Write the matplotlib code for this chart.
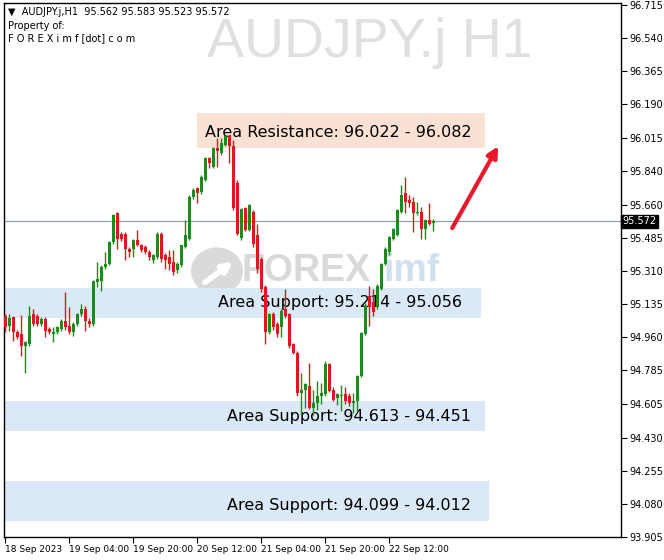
import numpy as np
import matplotlib
matplotlib.use("Agg")
import matplotlib.pyplot as plt
from matplotlib.patches import Rectangle, Ellipse
from matplotlib.transforms import blended_transform_factory

# AUDJPY H1 candles, 18 Sep 12:00 .. 22 Sep 23:00
opens = [95.074, 95.020, 95.065, 94.986, 94.978, 94.915, 94.925, 95.083, 95.074, 95.030,
         95.057, 95.004, 94.977, 94.986, 95.004, 95.048, 95.021, 94.986, 95.030, 95.083,
         95.110, 95.048, 95.030, 95.251, 95.260, 95.331, 95.349, 95.464, 95.614, 95.508,
         95.508, 95.428, 95.428, 95.473, 95.446, 95.437, 95.411, 95.366, 95.384, 95.508,
         95.393, 95.384, 95.358, 95.313, 95.340, 95.437, 95.481, 95.699, 95.747, 95.725,
         95.791, 95.906, 95.862, 95.960, 95.933, 95.977, 96.021, 95.968, 95.774, 95.482,
         95.641, 95.526, 95.623, 95.500, 95.375, 95.225, 94.986, 95.083, 95.030, 95.012,
         95.110, 95.083, 94.923, 94.879, 94.667, 94.684, 94.702, 94.587, 94.614, 94.649,
         94.658, 94.817, 94.684, 94.640, 94.650, 94.658, 94.649, 94.614, 94.622, 94.755,
         94.977, 95.180, 95.145, 95.118, 95.216, 95.348, 95.410, 95.481, 95.499, 95.623,
         95.720, 95.685, 95.676, 95.614, 95.623, 95.534, 95.578, 95.562]
highs = [95.085, 95.085, 95.075, 95.000, 95.080, 94.940, 95.127, 95.110, 95.085, 95.065,
         95.065, 95.015, 95.012, 95.020, 95.057, 95.198, 95.119, 95.040, 95.090, 95.136,
         95.127, 95.060, 95.265, 95.357, 95.340, 95.410, 95.470, 95.610, 95.623, 95.517,
         95.515, 95.435, 95.480, 95.526, 95.455, 95.445, 95.420, 95.400, 95.515, 95.515,
         95.405, 95.420, 95.420, 95.360, 95.450, 95.579, 95.710, 95.747, 95.755, 95.815,
         95.910, 95.915, 95.965, 96.013, 96.013, 96.030, 96.030, 96.000, 95.791, 95.645,
         95.650, 95.665, 95.630, 95.560, 95.385, 95.235, 95.090, 95.095, 95.040, 95.110,
         95.216, 95.090, 94.930, 94.890, 94.773, 94.720, 94.826, 94.684, 94.729, 94.720,
         94.835, 94.825, 94.700, 94.665, 94.710, 94.700, 94.665, 94.665, 94.760, 94.990,
         95.140, 95.233, 95.216, 95.240, 95.350, 95.435, 95.495, 95.540, 95.640, 95.764,
         95.809, 95.711, 95.702, 95.676, 95.650, 95.585, 95.667, 95.583]
lows = [94.990, 94.995, 94.942, 94.950, 94.862, 94.773, 94.915, 95.020, 95.020, 95.020,
        94.959, 94.975, 94.933, 94.975, 94.995, 95.000, 94.975, 94.968, 95.020, 95.075,
        94.995, 95.012, 95.020, 95.225, 95.207, 95.320, 95.340, 95.455, 95.428, 95.470,
        95.366, 95.384, 95.384, 95.440, 95.410, 95.400, 95.366, 95.355, 95.375, 95.360,
        95.322, 95.313, 95.287, 95.300, 95.330, 95.430, 95.475, 95.690, 95.667, 95.715,
        95.785, 95.853, 95.855, 95.862, 95.925, 95.970, 95.880, 95.630, 95.500, 95.475,
        95.520, 95.520, 95.437, 95.300, 95.200, 94.924, 94.980, 95.000, 94.960, 94.960,
        95.060, 94.905, 94.870, 94.650, 94.552, 94.587, 94.580, 94.552, 94.578, 94.605,
        94.650, 94.670, 94.625, 94.604, 94.570, 94.610, 94.595, 94.560, 94.569, 94.750,
        94.970, 95.021, 95.074, 95.110, 95.210, 95.340, 95.393, 95.475, 95.495, 95.615,
        95.614, 95.650, 95.516, 95.605, 95.481, 95.481, 95.555, 95.523]
closes = [95.012, 95.060, 94.986, 94.960, 94.915, 94.933, 95.074, 95.030, 95.030, 95.057,
          94.995, 94.986, 94.986, 95.012, 95.048, 95.012, 94.986, 95.030, 95.083, 95.110,
          95.048, 95.030, 95.260, 95.269, 95.331, 95.349, 95.464, 95.605, 95.481, 95.481,
          95.428, 95.411, 95.473, 95.446, 95.420, 95.411, 95.384, 95.393, 95.508, 95.375,
          95.366, 95.349, 95.305, 95.349, 95.446, 95.499, 95.703, 95.738, 95.721, 95.809,
          95.906, 95.880, 95.960, 95.942, 95.986, 96.021, 95.968, 95.645, 95.508, 95.640,
          95.526, 95.658, 95.455, 95.322, 95.216, 94.986, 95.083, 95.012, 94.977, 95.101,
          95.074, 94.915, 94.879, 94.667, 94.684, 94.711, 94.587, 94.614, 94.649, 94.667,
          94.817, 94.675, 94.631, 94.658, 94.655, 94.622, 94.614, 94.622, 94.755, 94.985,
          95.127, 95.118, 95.092, 95.233, 95.348, 95.428, 95.490, 95.534, 95.632, 95.711,
          95.676, 95.667, 95.614, 95.623, 95.534, 95.578, 95.561, 95.572]

last_price = 95.572
time_ticks = [0, 16, 32, 48, 64, 80, 96]
time_labels = ["18 Sep 2023", "19 Sep 04:00", "19 Sep 20:00", "20 Sep 12:00",
               "21 Sep 04:00", "21 Sep 20:00", "22 Sep 12:00"]
price_ticks = [96.715, 96.540, 96.365, 96.190, 96.015, 95.840, 95.660, 95.485, 95.310,
               95.135, 94.960, 94.785, 94.605, 94.430, 94.255, 94.080, 93.905]

# zones: (x0, x1, y_low, y_high, text, text_x, text_y, colour)
zones = [
    (48, 120, 95.960, 96.145, "Area Resistance: 96.022 - 96.082", 50, 96.044, "#fbe1d3"),
    (-1, 119, 95.062, 95.220, "Area Support: 95.214 - 95.056", 53.2, 95.146, "#dbe8f7"),
    (-1, 120, 94.465, 94.623, "Area Support: 94.613 - 94.451", 55.5, 94.544, "#dbe8f7"),
    (-1, 121, 93.990, 94.201, "Area Support: 94.099 - 94.012", 55.5, 94.069, "#dbe8f7"),
]

fig = plt.figure(figsize=(6.64, 5.6), dpi=100)
ax = fig.add_axes([4 / 664, 23 / 560, 617 / 664, 534 / 560])
ax.set_xlim(-0.25, 154)
ax.set_ylim(93.905, 96.726)

# watermark + logo
fig.text(370 / 664, 1 - 43 / 560, "AUDJPY.j H1", fontsize=40, color="#e0e0e0",
         family="Liberation Sans", ha="center", va="center", zorder=0)
ax.add_patch(Ellipse((53.0, 95.31), 13, 0.25, facecolor="#dadada", edgecolor="none",
                     zorder=0.5))
ax.annotate("", xy=(57.0, 95.36), xytext=(50.0, 95.25),
            arrowprops=dict(arrowstyle="-|>", color="white", lw=4, mutation_scale=14,
                            shrinkA=0, shrinkB=0), zorder=0.6)
ax.text(59.0, 95.31, "FOREX", fontsize=27, fontweight="bold", color="#d9d9d9",
        family="Liberation Sans", va="center", ha="left", zorder=0.5)
ax.text(94.5, 95.31, "imf", fontsize=27, fontweight="bold", color="#d0e0ef",
        family="Liberation Sans", va="center", ha="left", zorder=0.5)

for x0, x1, ylo, yhi, txt, tx, ty, col in zones:
    ax.add_patch(Rectangle((x0, ylo), x1 - x0, yhi - ylo, facecolor=col,
                           edgecolor="none", zorder=1))
    ax.text(tx, ty, txt, fontsize=11.5, color="black", va="center", ha="left", zorder=2)

ax.axhline(last_price, color="#8d99a6", lw=0.8, zorder=2)

o = np.array(opens)
c = np.array(closes)
x = np.arange(len(o))
col = np.where(c >= o, "#1d8a1d", "#e0171e")
ax.vlines(x, lows, highs, colors=col, lw=1, zorder=3)
body = np.maximum(np.abs(c - o), 0.006)
ax.bar(x, body, bottom=np.minimum(o, c), width=0.75, color=col, zorder=4)

ax.annotate("", xy=(123.3, 95.97), xytext=(111.8, 95.537),
            arrowprops=dict(arrowstyle="-|>", color="#e8192c", lw=3, mutation_scale=16,
                            shrinkA=0, shrinkB=0), zorder=5)

# axes styling
ax.yaxis.tick_right()
ax.set_yticks(price_ticks)
ax.set_yticklabels([f"{p:.3f}" for p in price_ticks])
ax.set_xticks(time_ticks)
ax.set_xticklabels(time_labels, ha="left")
ax.tick_params(axis="y", direction="out", length=4, width=0.8, labelsize=7, pad=2)
ax.tick_params(axis="x", direction="out", length=4, width=0.8, labelsize=6.5, pad=2)
for sp in ax.spines.values():
    sp.set_color("black")
    sp.set_linewidth(1)

tr = blended_transform_factory(ax.transAxes, ax.transData)
ax.text(1.003, last_price, f"{last_price:.3f}", transform=tr, fontsize=7, color="white",
        va="center", ha="left", zorder=6, clip_on=False,
        bbox=dict(boxstyle="square,pad=0.15", facecolor="black", edgecolor="black"))

# header
fig.text(8 / 664, 1 - 12 / 560, "\u25bc  AUDJPY.j,H1  95.562 95.583 95.523 95.572",
         fontsize=7, va="center", ha="left")
fig.text(8 / 664, 1 - 26 / 560, "Property of:", fontsize=7, va="center", ha="left")
fig.text(8 / 664, 1 - 38 / 560, "F O R E X i m f [dot] c o m", fontsize=7,
         va="center", ha="left")

fig.savefig("out.png", dpi=100)
